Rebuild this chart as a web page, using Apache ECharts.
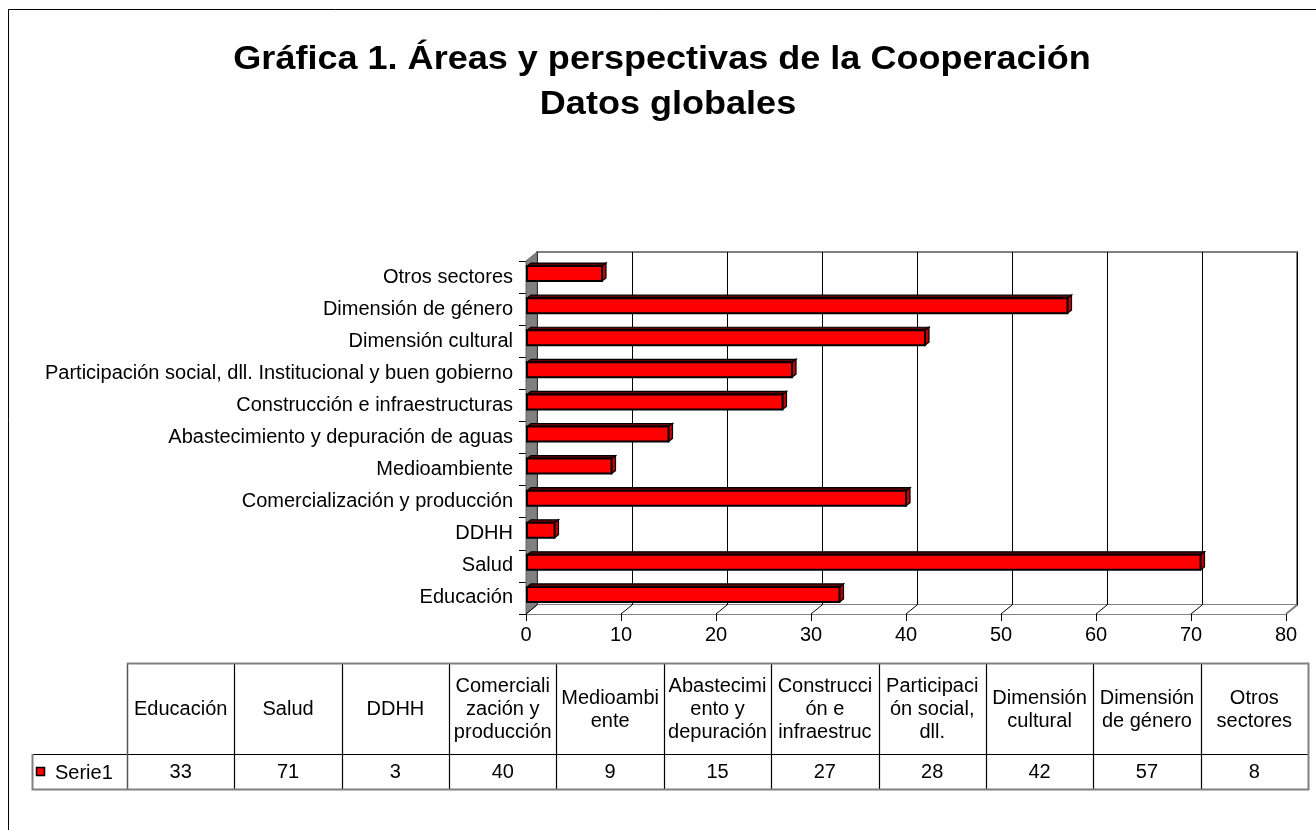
<!DOCTYPE html>
<html>
<head>
<meta charset="utf-8">
<script src="https://cdn.jsdelivr.net/npm/echarts@6/dist/echarts.min.js"></script>
<style>
html, body { margin: 0; padding: 0; background: #fff; }
#chart { width: 1316px; height: 830px; }
</style>
</head>
<body>
<div id="chart"></div>
<script>
// datos de la grafica
const categories = ['Educación', 'Salud', 'DDHH', 'Comercialización y producción', 'Medioambiente',
  'Abastecimiento y depuración de aguas', 'Construcción e infraestructuras',
  'Participación social, dll. Institucional y buen gobierno', 'Dimensión cultural',
  'Dimensión de género', 'Otros sectores']
const values = [33, 71, 3, 40, 9, 15, 27, 28, 42, 57, 8]
const tableHeaders = ['Educación', 'Salud', 'DDHH', 'Comerciali\nzación y\nproducción', 'Medioambi\nente',
  'Abastecimi\nento y\ndepuración', 'Construcci\nón e\ninfraestruc', 'Participaci\nón social,\ndll.',
  'Dimensión\ncultural', 'Dimensión\nde género', 'Otros\nsectores']
const seriesName = 'Serie1'
const xTicks = [0, 10, 20, 30, 40, 50, 60, 70, 80]

const FONT = '"Liberation Sans", Arial, sans-serif'
const DX = 11, DY = -9

let myChart = echarts.init(document.getElementById('chart'), null, { renderer: 'canvas' })

// tabla de datos de abajo
function buildTable() {
  let els = []
  let x0 = 127, x1 = 1308, yTop = 663, yMid = 754, yBot = 789
  let colW = (x1 - x0) / tableHeaders.length
  for (let i = 0; i < tableHeaders.length; i++) {
    let cx = x0 + colW * (i + 0.5)
    els.push({ type: 'text', x: cx, y: (yTop + yMid) / 2 + 1, style: { text: tableHeaders[i], font: '20px ' + FONT, fill: '#000', align: 'center', verticalAlign: 'middle', lineHeight: 23 } })
    els.push({ type: 'text', x: cx, y: (yMid + yBot) / 2 + 1, style: { text: String(values[i]), font: '20px ' + FONT, fill: '#000', align: 'center', verticalAlign: 'middle' } })
    if (i > 0) {
      els.push({ type: 'line', shape: { x1: Math.round(x0 + colW * i) + 0.5, y1: yTop, x2: Math.round(x0 + colW * i) + 0.5, y2: yBot }, style: { stroke: '#000', lineWidth: 1.2 } })
    }
  }
  // lineas horizontales y borde
  els.push({ type: 'line', shape: { x1: 32, y1: yMid + 0.5, x2: x1, y2: yMid + 0.5 }, style: { stroke: '#000', lineWidth: 1.2 } })
  els.push({ type: 'line', shape: { x1: x0 + 0.5, y1: yTop, x2: x0 + 0.5, y2: yBot }, style: { stroke: '#555', lineWidth: 1.5 } })
  els.push({ type: 'polyline', shape: { points: [[x0, yTop + 0.5], [x1 + 0.5, yTop + 0.5], [x1 + 0.5, yBot + 0.5], [32.5, yBot + 0.5], [32.5, yMid]] }, style: { stroke: '#808080', lineWidth: 2, fill: null } })
  // clave de la leyenda
  els.push({ type: 'rect', shape: { x: 36.5, y: 767.5, width: 8, height: 8 }, style: { fill: '#FF0000', stroke: '#000', lineWidth: 1.5 } })
  els.push({ type: 'text', x: 55, y: 773, style: { text: seriesName, font: '20px ' + FONT, fill: '#000', verticalAlign: 'middle' } })
  return els
}

let option = {
  animation: false,
  backgroundColor: '#fff',
  graphic: [
    { type: 'polyline', shape: { points: [[8.5, 830], [8.5, 9.5], [1316, 9.5]] }, style: { stroke: '#000', lineWidth: 1, fill: null } },
    { type: 'text', x: 662, y: 60, scaleX: 1.06, style: { text: 'Gráfica 1. Áreas y perspectivas de la Cooperación', font: 'bold 34px ' + FONT, fill: '#000', align: 'center', verticalAlign: 'middle' } },
    { type: 'text', x: 668, y: 105, scaleX: 1.06, style: { text: 'Datos globales', font: 'bold 34px ' + FONT, fill: '#000', align: 'center', verticalAlign: 'middle' } }
  ].concat(buildTable()),
  grid: [
    // pared del fondo
    { left: 537, top: 252, width: 760, height: 353, show: true, borderColor: '#808080', borderWidth: 2, backgroundColor: 'transparent' },
    // plano frontal
    { left: 526, top: 261, width: 760, height: 353 }
  ],
  xAxis: [
    {
      gridIndex: 0, type: 'value', min: 0, max: 80, interval: 10,
      axisLine: { show: false }, axisTick: { show: false }, axisLabel: { show: false },
      splitLine: { show: true, lineStyle: { color: '#000', width: 1 } }
    },
    {
      gridIndex: 1, type: 'value', min: 0, max: 80, interval: 10,
      axisLine: { show: true, lineStyle: { color: '#808080', width: 1 } },
      axisTick: { show: true, length: 7, lineStyle: { color: '#000' } },
      axisLabel: { color: '#000', fontSize: 20, fontFamily: FONT, margin: 11 },
      splitLine: { show: false }
    }
  ],
  yAxis: [
    { gridIndex: 0, type: 'category', data: categories, show: false },
    {
      gridIndex: 1, type: 'category', data: categories,
      axisLine: { show: true, lineStyle: { color: '#555' } },
      axisTick: { show: true, length: 7, lineStyle: { color: '#000' } },
      axisLabel: { color: '#000', fontSize: 20, fontFamily: FONT, margin: 13 }
    }
  ],
  series: [
    {
      // suelo y pared lateral
      type: 'custom', xAxisIndex: 1, yAxisIndex: 1, z: 1, silent: true,
      data: [0],
      renderItem: function (params, api) {
        let cs = params.coordSys
        let x = cs.x, y = cs.y, w = cs.width, h = cs.height
        let children = [
          { type: 'polygon', shape: { points: [[x, y + h], [x + w, y + h], [x + w + DX, y + h + DY], [x + DX, y + h + DY]] }, style: { fill: '#fff', stroke: null } },
          { type: 'polygon', shape: { points: [[x, y + h], [x + DX, y + h + DY], [x + DX, y + DY], [x, y]] }, style: { fill: '#808080', stroke: '#666', lineWidth: 1 } }
        ]
        return { type: 'group', children: children }
      }
    },
    {
      // diagonales del suelo
      type: 'custom', xAxisIndex: 1, yAxisIndex: 1, z: 2, silent: true,
      data: xTicks.map(t => [t, 0]),
      renderItem: function (params, api) {
        let p = api.coord([api.value(0), 0])
        let yb = params.coordSys.y + params.coordSys.height
        let edge = api.value(0) === 80
        return {
          type: 'line',
          shape: { x1: p[0], y1: yb, x2: p[0] + DX, y2: yb + DY },
          style: { stroke: edge ? '#808080' : '#000', lineWidth: edge ? 2 : 1 }
        }
      }
    },
    {
      name: seriesName,
      type: 'custom', xAxisIndex: 1, yAxisIndex: 1, z: 5,
      data: values.map((v, i) => [v, i]),
      encode: { x: 0, y: 1 },
      renderItem: function (params, api) {
        let v = api.value(0), i = api.value(1)
        let p0 = api.coord([0, i]), p1 = api.coord([v, i])
        let xa = p0[0] + 1, xb = p1[0], yc = p0[1]
        let top = yc - 11, bot = yc + 4, d = 4
        return {
          type: 'group',
          children: [
            { type: 'polygon', shape: { points: [[xa, top], [xa + d, top - d + 1], [xb + d, top - d + 1], [xb, top]] }, style: { fill: '#600000', stroke: '#000', lineWidth: 1.2 } },
            { type: 'polygon', shape: { points: [[xb, top], [xb + d, top - d + 1], [xb + d, bot - d + 1], [xb, bot]] }, style: { fill: '#C00000', stroke: '#000', lineWidth: 1.2 } },
            { type: 'rect', shape: { x: xa, y: top, width: xb - xa, height: bot - top }, style: { fill: '#FF0000', stroke: '#000', lineWidth: 2 } }
          ]
        }
      }
    }
  ]
}

myChart.setOption(option)
window.addEventListener('resize', function () {
  myChart.resize()
})
</script>
</body>
</html>
